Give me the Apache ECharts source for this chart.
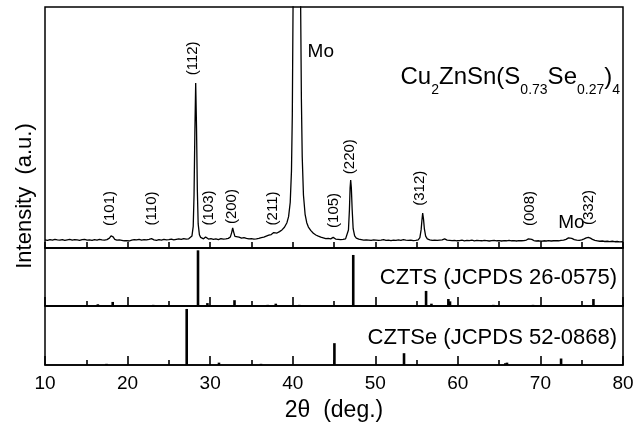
<!DOCTYPE html>
<html>
<head>
<meta charset="utf-8">
<script src="https://cdn.jsdelivr.net/npm/echarts@6.0.0/dist/echarts.min.js"></script>
<style>
html, body { margin: 0; padding: 0; background: #fff; }
#main { width: 644px; height: 430px; }
</style>
</head>
<body>
<div id="main"></div>
<script>
var scanAngle = [
    10.0, 10.3, 10.6, 10.9, 11.2, 11.5, 11.8, 12.1, 12.4, 12.7, 13.0, 13.3, 13.6, 13.9, 14.2, 14.5, 14.8,
    15.1, 15.4, 15.7, 16.0, 16.3, 16.6, 16.9, 17.2, 17.5, 17.8, 18.0, 18.1, 18.25, 18.45, 18.7, 19.0,
    19.3, 19.6, 19.9, 20.2, 20.5, 20.8, 21.1, 21.4, 21.7, 22.0, 22.3, 22.6, 22.9, 23.2, 23.5, 23.8,
    24.1, 24.4, 24.7, 25.0, 25.3, 25.6, 25.9, 26.2, 26.5, 26.8, 27.1, 27.4, 27.6, 27.8, 27.95, 28.05,
    28.15, 28.25, 28.35, 28.45, 28.55, 28.7, 28.85, 29.0, 29.2, 29.45, 29.6, 29.8, 30.1, 30.4, 30.7,
    31.0, 31.3, 31.6, 31.9, 32.2, 32.45, 32.6, 32.73, 32.85, 33.0, 33.2, 33.5, 33.8, 34.1, 34.4, 34.7,
    35.0, 35.3, 35.6, 35.9, 36.2, 36.5, 36.8, 37.1, 37.4, 37.7, 37.9, 38.1, 38.4, 38.7, 39.0, 39.3,
    39.5, 39.7, 39.85, 39.95, 40.05, 40.47, 40.95, 41.05, 41.15, 41.3, 41.5, 41.7, 41.9, 42.2, 42.5,
    42.8, 43.1, 43.4, 43.7, 44.0, 44.3, 44.6, 44.9, 45.2, 45.5, 45.8, 46.1, 46.4, 46.6, 46.75, 46.87,
    46.95, 47.02, 47.1, 47.2, 47.32, 47.5, 47.7, 48.0, 48.3, 48.6, 48.9, 49.2, 49.5, 49.8, 50.1, 50.4,
    50.7, 51.0, 51.3, 51.6, 51.9, 52.2, 52.5, 52.8, 53.1, 53.4, 53.7, 54.0, 54.3, 54.6, 54.9, 55.2,
    55.4, 55.55, 55.65, 55.74, 55.84, 55.95, 56.1, 56.3, 56.6, 56.9, 57.2, 57.5, 57.8, 58.1, 58.4,
    58.7, 59.0, 59.3, 59.6, 59.9, 60.2, 60.5, 60.8, 61.1, 61.4, 61.7, 62.0, 62.3, 62.6, 62.9, 63.2,
    63.5, 63.8, 64.1, 64.4, 64.7, 65.0, 65.3, 65.6, 65.9, 66.2, 66.5, 66.8, 67.1, 67.4, 67.7, 68.0,
    68.3, 68.55, 68.74, 68.95, 69.2, 69.5, 69.8, 70.1, 70.4, 70.7, 71.0, 71.3, 71.6, 71.9, 72.2, 72.5,
    72.8, 73.1, 73.4, 73.6, 73.8, 74.1, 74.4, 74.7, 75.0, 75.3, 75.55, 75.8, 76.05, 76.3, 76.6, 76.9,
    77.2, 77.5, 77.8, 78.1, 78.4, 78.7, 79.0, 79.3, 79.6, 80.0
];
var scanIntensity = [
    3.4, 3.2, 3.5, 3.3, 3.6, 3.4, 3.3, 3.5, 3.2, 3.4, 3.6, 3.3, 3.5, 3.4, 3.2, 3.5, 3.6,
    3.3, 3.4, 3.2, 3.5, 3.3, 3.6, 3.4, 3.3, 3.5, 4.1, 5.0, 5.4, 4.6, 3.6, 3.3, 3.4,
    3.2, 3.0, 3.1, 2.9, 3.3, 3.5, 3.4, 3.6, 3.3, 3.5, 3.4, 3.6, 3.9, 3.4, 3.2, 3.5,
    3.3, 3.6, 3.4, 3.5, 3.7, 3.4, 3.6, 3.8, 3.6, 3.9, 3.7, 3.8, 4.1, 5.0, 9.0, 22,
    48, 68.5, 50, 24, 10, 5.5, 4.4, 4.0, 3.8, 4.6, 4.2, 3.7, 3.9, 3.6, 3.8,
    3.5, 3.9, 3.7, 3.8, 4.0, 4.6, 6.3, 8.3, 6.6, 4.8, 4.3, 4.5, 4.1, 4.3, 4.0, 3.8,
    3.9, 3.7, 3.8, 4.0, 4.3, 4.5, 4.9, 5.3, 5.6, 6.4, 5.9, 6.2, 6.8, 7.5, 8.6, 10.5,
    13, 19, 32, 55, 105, 150, 105, 62, 38, 22, 14, 10.5, 8.7, 7.2, 6.1,
    5.4, 4.9, 4.5, 4.2, 3.9, 4.0, 3.8, 4.4, 3.7, 3.6, 3.5, 3.6, 3.8, 4.6, 7.5, 16,
    25, 28.2, 25, 16, 8, 5.0, 4.1, 3.7, 3.5, 3.3, 3.4, 3.3, 3.2, 3.4, 3.3, 3.2,
    3.3, 3.5, 3.2, 3.3, 3.1, 3.3, 3.2, 3.4, 3.2, 3.5, 3.3, 3.2, 3.3, 3.1, 3.2, 3.4,
    4.3, 7.5, 11.5, 14.5, 12, 7.8, 4.9, 3.8, 3.4, 3.2, 3.3, 3.2, 3.3, 3.4, 3.8,
    3.3, 3.2, 3.1, 3.2, 3.0, 3.1, 3.3, 3.0, 3.2, 3.1, 3.3, 3.0, 3.2, 3.1, 3.0, 3.2,
    3.1, 2.9, 3.1, 3.2, 3.0, 3.1, 2.9, 3.1, 3.0, 3.2, 3.0, 3.1, 2.9, 3.1, 3.0, 3.1,
    3.3, 3.8, 4.1, 3.6, 3.1, 2.9, 3.0, 2.8, 3.0, 2.9, 3.1, 2.9, 3.0, 3.1, 3.0, 3.2,
    3.3, 3.6, 4.2, 4.4, 4.0, 3.5, 3.3, 3.2, 3.4, 3.8, 4.2, 4.4, 4.1, 3.6, 3.2, 3.0,
    2.8, 2.9, 2.7, 2.8, 2.6, 2.8, 2.6, 2.7, 2.5, 2.6
];

// reference patterns (relative intensity, %)
var cztsAngle = [16.4, 18.2, 23.1, 28.53, 29.67, 32.95, 36.97, 37.95, 40.8, 47.33, 56.15, 56.8, 58.85, 59.05, 64.3, 69.1, 76.42];
var cztsIntensity = [3, 7, 2, 96, 5, 10, 2, 4, 2, 88, 26, 4, 12, 8, 2, 2, 12];
var cztseAngle = [17.45, 27.16, 31.07, 36.16, 45.05, 53.48, 65.75, 65.95, 72.5];
var cztseIntensity = [2, 95, 4, 2, 37, 20, 3, 4, 11];

// peak labels (centre of label, in data units)
var hklNames = ['(101)', '(110)', '(112)', '(103)', '(200)', '(211)', '(105)', '(220)', '(312)', '(008)', '(332)'];
var hklLabelAngle = [17.9, 22.95, 27.9, 29.85, 32.65, 37.6, 44.95, 46.95, 55.45, 68.72, 75.9];
var hklLabelHeight = [16.4, 16.4, 78.7, 16.6, 17.2, 16.4, 15.6, 37.9, 24.8, 16.4, 16.8];
var moLabelAngle = [43.4, 73.75];
var moLabelHeight = [81.3, 10.5];

var fontName = 'Liberation Sans, Arial, sans-serif';

function zip(a, b) {
    var out = [];
    for (var i = 0; i < a.length; i++) {
        out.push([a[i], b[i]]);
    }
    return out;
}

var hklData = [];
for (var i = 0; i < hklNames.length; i++) {
    hklData.push({ name: hklNames[i], value: [hklLabelAngle[i], hklLabelHeight[i]] });
}
var moData = [];
for (var k = 0; k < moLabelAngle.length; k++) {
    moData.push({ name: 'Mo', value: [moLabelAngle[k], moLabelHeight[k]] });
}

var myChart = echarts.init(document.getElementById('main'));

function makeX(idx, tickLen, minorLen) {
    return {
        type: 'value',
        gridIndex: idx,
        min: 10,
        max: 80,
        interval: 10,
        axisLine: { show: true, onZero: false, lineStyle: { color: '#000', width: 1.5 } },
        axisTick: { show: true, inside: true, length: tickLen, lineStyle: { color: '#000', width: 1.6 } },
        minorTick: { show: true, splitNumber: 2, length: minorLen, lineStyle: { color: '#000', width: 1.6 } },
        splitLine: { show: false },
        minorSplitLine: { show: false },
        axisLabel: {
            show: idx === 2,
            margin: 9,
            color: '#000',
            fontSize: 19,
            fontFamily: fontName
        }
    };
}

function makeY(idx) {
    return { type: 'value', gridIndex: idx, min: 0, max: 100, show: false };
}

var gridStyle = { show: true, borderColor: '#000', borderWidth: 1.5, backgroundColor: 'transparent' };

var option = {
    animation: false,
    grid: [
        Object.assign({ left: 45, top: 7, width: 578, height: 241 }, gridStyle),
        Object.assign({ left: 45, top: 248, width: 578, height: 58 }, gridStyle),
        Object.assign({ left: 45, top: 306, width: 578, height: 59 }, gridStyle)
    ],
    xAxis: [makeX(0, 6, 6), makeX(1, 9, 5), makeX(2, 9, 5)],
    yAxis: [makeY(0), makeY(1), makeY(2)],
    series: [
        {
            name: 'scan',
            type: 'line',
            xAxisIndex: 0,
            yAxisIndex: 0,
            data: zip(scanAngle, scanIntensity),
            showSymbol: false,
            clip: true,
            lineStyle: { color: '#000', width: 1.3 }
        },
        {
            name: 'CZTS',
            type: 'bar',
            xAxisIndex: 1,
            yAxisIndex: 1,
            data: zip(cztsAngle, cztsIntensity),
            barWidth: 2.6,
            itemStyle: { color: '#000' }
        },
        {
            name: 'CZTSe',
            type: 'bar',
            xAxisIndex: 2,
            yAxisIndex: 2,
            data: zip(cztseAngle, cztseIntensity),
            barWidth: 2.6,
            itemStyle: { color: '#000' }
        },
        {
            name: 'hkl',
            type: 'scatter',
            xAxisIndex: 0,
            yAxisIndex: 0,
            data: hklData,
            symbolSize: 1,
            itemStyle: { color: 'transparent', opacity: 1 },
            label: {
                show: true,
                position: 'inside',
                rotate: 90,
                formatter: '{b}',
                color: '#000',
                fontSize: 15,
                fontFamily: fontName
            }
        },
        {
            name: 'Mo',
            type: 'scatter',
            xAxisIndex: 0,
            yAxisIndex: 0,
            data: moData,
            symbolSize: 1,
            itemStyle: { color: 'transparent', opacity: 1 },
            label: {
                show: true,
                position: 'inside',
                formatter: '{b}',
                color: '#000',
                fontSize: 19,
                fontFamily: fontName
            }
        }
    ],
    graphic: [
        {
            type: 'text',
            x: 620,
            y: 77,
            style: {
                text: '{a|Cu}{s|2}{a|ZnSn(S}{s|0.73}{a|Se}{s|0.27}{a|)}{s|4}',
                align: 'right',
                verticalAlign: 'middle',
                fill: '#000',
                rich: {
                    a: { fontSize: 24, lineHeight: 40, fontFamily: fontName, fill: '#000' },
                    s: { fontSize: 14, lineHeight: 14, verticalAlign: 'bottom', fontFamily: fontName, fill: '#000' }
                }
            }
        },
        {
            type: 'text',
            x: 617,
            y: 278,
            style: { text: 'CZTS (JCPDS 26-0575)', align: 'right', verticalAlign: 'middle', fill: '#000', fontSize: 22, fontFamily: fontName }
        },
        {
            type: 'text',
            x: 617,
            y: 338,
            style: { text: 'CZTSe (JCPDS 52-0868)', align: 'right', verticalAlign: 'middle', fill: '#000', fontSize: 22, fontFamily: fontName }
        },
        {
            type: 'text',
            x: 25,
            y: 196,
            rotation: Math.PI / 2,
            style: { text: 'Intensity  (a.u.)', align: 'center', verticalAlign: 'middle', fill: '#000', fontSize: 22, fontFamily: fontName }
        },
        {
            type: 'text',
            x: 334,
            y: 411,
            style: { text: '2θ  (deg.)', align: 'center', verticalAlign: 'middle', fill: '#000', fontSize: 23, fontFamily: fontName }
        }
    ]
};

myChart.setOption(option);
</script>
</body>
</html>
